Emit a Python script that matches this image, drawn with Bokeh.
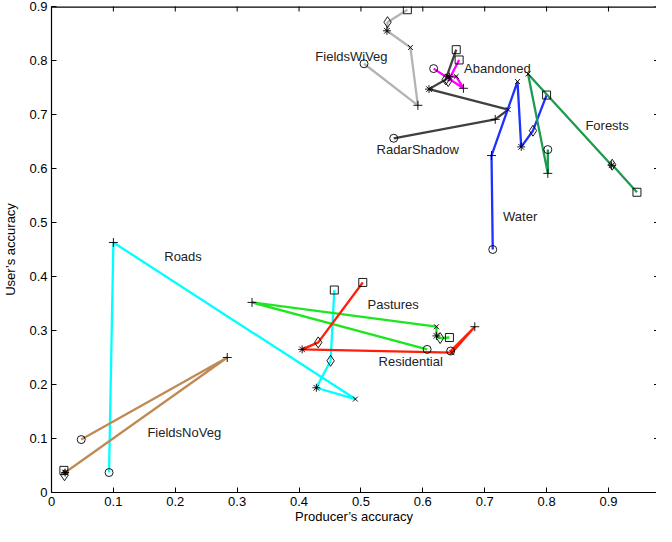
import math
from bokeh.plotting import figure
from bokeh.models import LinearAxis, Range1d, FixedTicker, ColumnDataSource
from bokeh.core.properties import value
from bokeh.embed import file_html
from bokeh.resources import INLINE

# ---- data -------------------------------------------------------------
markers = ["circle", "cross", "x", "asterisk", "diamond", "square"]

classes = ["FieldsWiVeg", "Abandoned", "RadarShadow", "Water", "Forests",
           "Roads", "Pastures", "Residential", "FieldsNoVeg"]

fieldswiveg_x = [0.505, 0.592, 0.580, 0.542, 0.543, 0.575]
fieldswiveg_y = [0.794, 0.717, 0.824, 0.855, 0.871, 0.894]

abandoned_x = [0.6175, 0.6656, 0.654, 0.643, 0.641, 0.6587]
abandoned_y = [0.785, 0.7485, 0.7705, 0.770, 0.762, 0.801]

radarshadow_x = [0.553, 0.717, 0.738, 0.610, 0.637, 0.654]
radarshadow_y = [0.656, 0.691, 0.709, 0.747, 0.765, 0.820]

water_x = [0.713, 0.711, 0.753, 0.759, 0.778, 0.800]
water_y = [0.450, 0.624, 0.761, 0.640, 0.670, 0.736]

forests_x = [0.802, 0.802, 0.770, 0.905, 0.906, 0.946]
forests_y = [0.635, 0.591, 0.775, 0.606, 0.607, 0.556]

roads_x = [0.093, 0.100, 0.491, 0.428, 0.451, 0.457]
roads_y = [0.037, 0.463, 0.173, 0.194, 0.244, 0.375]

pastures_x = [0.607, 0.324, 0.622, 0.622, 0.628, 0.643]
pastures_y = [0.265, 0.352, 0.307, 0.290, 0.286, 0.287]

residential_x = [0.645, 0.684, 0.647, 0.405, 0.431, 0.503]
residential_y = [0.262, 0.307, 0.259, 0.265, 0.278, 0.389]

fieldsnoveg_x = [0.048, 0.284, 0.022, 0.022, 0.021, 0.020]
fieldsnoveg_y = [0.098, 0.250, 0.037, 0.037, 0.032, 0.041]

# label anchor points (data coords)
label_x = [0.4263, 0.6667, 0.5252, 0.7296, 0.8627, 0.1822, 0.5107, 0.5284, 0.155]
label_y = [0.8077, 0.7857, 0.6359, 0.511, 0.6795, 0.4368, 0.348, 0.2418, 0.1108]

x_ticks = [0, 0.1, 0.2, 0.3, 0.4, 0.5, 0.6, 0.7, 0.8, 0.9]
y_ticks = [0, 0.1, 0.2, 0.3, 0.4, 0.5, 0.6, 0.7, 0.8, 0.9]

# ---- styles -----------------------------------------------------------
marker_sizes = [8, 9, 7, 8, 11, 8]

colors = ["#b4b4b4", "#ff00ff", "#404040", "#1f30ff", "#1f9a4f",
          "#00ffff", "#1ee61e", "#ff1e0a", "#c08a55"]

series = [
    (fieldswiveg_x, fieldswiveg_y), (abandoned_x, abandoned_y),
    (radarshadow_x, radarshadow_y), (water_x, water_y),
    (forests_x, forests_y), (roads_x, roads_y),
    (pastures_x, pastures_y), (residential_x, residential_y),
    (fieldsnoveg_x, fieldsnoveg_y),
]

FONT = "Liberation Sans"
X_END = 0.9776
Y_END = 0.9

p = figure(width=656, height=526, output_backend="svg", toolbar_location=None,
           x_range=Range1d(0, X_END), y_range=Range1d(0, Y_END),
           min_border_left=46, min_border_top=6, min_border_right=0,
           min_border_bottom=30, x_axis_location=None, y_axis_location=None)
p.grid.visible = False
p.outline_line_color = None
p.background_fill_color = "white"

def style_axis(ax):
    ax.axis_line_color = "black"
    ax.axis_line_width = 1.2
    ax.major_tick_in = 5
    ax.major_tick_out = 0
    ax.minor_tick_line_color = None
    ax.major_tick_line_color = "black"
    ax.major_label_text_font = FONT
    ax.major_label_text_font_size = "13px"
    ax.major_label_text_color = "black"
    ax.axis_label_text_font = FONT
    ax.axis_label_text_font_size = "13px"
    ax.axis_label_text_font_style = "normal"
    ax.axis_label_text_color = "black"

xb = LinearAxis(axis_label="Producer\u2019s accuracy", ticker=FixedTicker(ticks=x_ticks))
style_axis(xb)
xb.major_label_standoff = 4
xb.axis_label_standoff = 0
xb.major_label_overrides = {0: "0"}
p.add_layout(xb, "below")

yl = LinearAxis(axis_label="User\u2019s accuracy", ticker=FixedTicker(ticks=y_ticks))
style_axis(yl)
yl.major_label_standoff = 4
yl.axis_label_standoff = 8
yl.major_label_overrides = {0: "0"}
p.add_layout(yl, "left")

# top border line and inward tick marks on the top / right edges
p.line([0, X_END], [Y_END, Y_END], line_color="black", line_width=2.4)
p.scatter(x_ticks, [Y_END] * len(x_ticks), marker="dash", angle=math.pi / 2,
          size=10, line_color="black", line_width=1)
p.scatter([X_END] * len(y_ticks), y_ticks, marker="dash",
          size=5, line_color="black", line_width=1)

for (xs, ys), c in zip(series, colors):
    p.line(xs, ys, line_color=c, line_width=2.3)

for (xs, ys), c in zip(series, colors):
    src = ColumnDataSource(dict(x=xs, y=ys, m=markers, s=marker_sizes))
    p.scatter("x", "y", marker="m", size="s", source=src, fill_color=None,
              line_color="black", line_width=0.9)

p.text(label_x, label_y, text=classes, text_font=value(FONT),
       text_font_size="13px", text_color="#222222",
       text_align="left", text_baseline="middle")

open("out.html", "w").write(file_html(p, INLINE))
